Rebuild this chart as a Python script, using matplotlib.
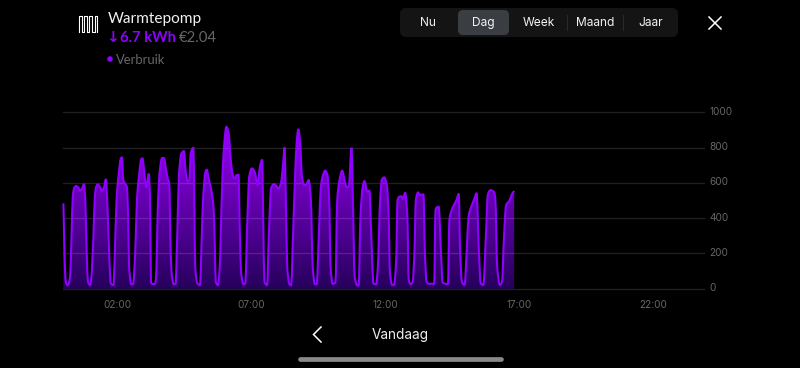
import matplotlib
matplotlib.use('Agg')
import matplotlib.pyplot as plt
import matplotlib.patches as patches
from matplotlib.path import Path
from matplotlib.colors import LinearSegmentedColormap
from matplotlib.transforms import ScaledTranslation
import numpy as np

# minutes since midnight
minutes = [0,2,4,6,10,15,18,21,24,28,33,37,42,46,49,52,55,60,62,67,70,73,77,82,86,91,95,99,103,106,112,115,119,124,128,131,134,139,142,145,147,152,156,161,165,170,174,177,182,186,191,194,196,198,204,207,212,216,221,225,230,234,237,240,243,247,251,255,259,264,270,274,279,282,285,291,293,295,300,306,309,313,318,321,325,331,336,339,341,346,350,355,359,365,370,374,379,383,388,392,395,398,403,407,412,416,422,428,435,440,445,447,450,456,460,465,471,477,481,487,492,495,498,501,506,510,513,518,522,526,530,534,539,543,549,554,558,563,567,572,576,580,586,591,595,598,603,609,613,618,624,630,634,639,645,648,652,658,661,665,670,674,680,685,689,694,700,704,709,713,718,724,728,731,736,740,745,748,752,756,760,765,770,773,777,782,786,789,794,798,806,809,813,818,830,833,836,840,845,849,861,864,868,874,880,885,888,892,898,903,907,913,919,925,930,934,940,946,950,956,964,967,971,977,982,986,991,998,1004,1009]
watts = [484,257,87,30,20,68,276,522,569,582,575,556,569,592,503,219,40,20,49,276,503,575,592,575,556,575,620,446,163,30,20,181,503,654,733,745,616,592,578,408,125,25,25,219,522,654,733,739,635,575,650,503,40,28,25,49,503,673,741,741,673,620,597,219,68,25,25,314,654,767,780,654,607,616,767,799,503,125,30,20,238,522,663,675,626,559,465,238,40,20,125,559,786,918,881,748,644,624,644,646,314,87,25,30,408,635,682,663,588,692,730,446,40,20,314,569,593,582,567,597,711,799,503,125,25,19,219,597,824,903,824,635,588,588,616,503,125,25,25,314,569,635,669,644,503,125,27,34,503,616,669,607,575,582,796,503,68,19,19,408,578,610,550,556,314,30,25,125,503,620,631,588,427,87,21,21,163,503,522,525,508,544,408,49,25,40,219,503,546,531,535,219,40,28,28,446,461,465,219,34,26,389,437,474,503,537,219,40,21,219,408,465,503,541,219,30,21,314,531,559,548,503,125,21,40,276,474,497,535,554]

y_ticks = [0, 200, 400, 600, 800, 1000]
x_ticks = [120, 420, 720, 1020, 1320]
x_labels = ['02:00', '07:00', '12:00', '17:00', '22:00']
tabs = ['Nu', 'Dag', 'Week', 'Maand', 'Jaar']

W, H = 800, 368


def smooth_path(xs, ys):
    # same kind of monotone curve the app draws, as bezier segments through the points
    xs = np.array(xs, dtype=float)
    ys = np.array(ys, dtype=float)
    d = np.diff(ys) / np.diff(xs)
    m = np.zeros(len(xs))
    m[0], m[-1] = d[0], d[-1]
    for i in range(1, len(xs) - 1):
        if d[i-1] * d[i] > 0:
            m[i] = 2 * d[i-1] * d[i] / (d[i-1] + d[i])
    verts = [(xs[0], ys[0])]
    codes = [Path.MOVETO]
    for i in range(len(xs) - 1):
        h = (xs[i+1] - xs[i]) / 3
        verts += [(xs[i] + h, ys[i] + m[i]*h), (xs[i+1] - h, ys[i+1] - m[i+1]*h), (xs[i+1], ys[i+1])]
        codes += [Path.CURVE4] * 3
    return verts, codes


fig = plt.figure(figsize=(8, 3.68), dpi=100, facecolor='black')

# chart area
ax = fig.add_axes([63.4/W, 1-288.7/H, (704-63.4)/W, 176.4/H], facecolor='black')
ax.set_xlim(0, 1434)
ax.set_ylim(0, 1000)
for s in ax.spines.values():
    s.set_visible(False)
ax.yaxis.tick_right()
ax.set_yticks(y_ticks)
ax.set_xticks(x_ticks)
ax.set_xticklabels(x_labels)
ax.tick_params(length=0, labelcolor='#666666', labelsize=7.2)
ax.tick_params(axis='x', pad=8)
ax.tick_params(axis='y', pad=4)
for l in ax.get_xticklabels():
    l.set_family('Inter')
up = ScaledTranslation(0, 1.5/100, fig.dpi_scale_trans)
for l in ax.get_yticklabels():
    l.set_family('Inter')
    l.set_transform(l.get_transform() + up)
ax.grid(axis='y', color='white', alpha=0.13, lw=1)
ax.set_axisbelow(False)
for g in ax.get_ygridlines():
    g.set_clip_on(False)

cmap = LinearSegmentedColormap.from_list('fill', ['#26005c', '#9c00fa'])
grad = np.linspace(0, 1, 256).reshape(-1, 1)
im = ax.imshow(grad, origin='lower', aspect='auto', cmap=cmap, extent=[0, 1434, 0, 950], zorder=2)
verts, codes = smooth_path(minutes, watts)
fill_path = Path(verts + [(minutes[-1], 0), (minutes[0], 0), (minutes[0], watts[0])],
                 codes + [Path.LINETO, Path.LINETO, Path.CLOSEPOLY])
poly = patches.PathPatch(fill_path, transform=ax.transData, fc='none', ec='none')
ax.add_patch(poly)
im.set_clip_path(poly)
ax.set_xlim(0, 1434)
ax.set_ylim(0, 1000)
ax.add_patch(patches.PathPatch(Path(verts, codes), fc='none', ec='#8f00ff', lw=1.5,
                               joinstyle='round', zorder=3, clip_on=False))

# everything around the chart, in pixels
ui = fig.add_axes([0, 0, 1, 1], facecolor='none')
ui.set_xlim(0, W)
ui.set_ylim(H, 0)
ui.axis('off')

# coil icon
coil_x = [79,79,81.6,81.6,84.2,84.2,86.8,86.8,89.4,89.4,92,92,94.6,94.6,97.2,97.2]
coil_y = [31.5,16,16,31.5,31.5,16,16,31.5,31.5,16,16,31.5,31.5,16,16,31.5]
ui.plot(coil_x, coil_y, color='white', lw=0.8, solid_joinstyle='round')

ui.text(107.5, 18.5, 'Warmtepomp', color='#f0f0f0', fontsize=11.1, family='Lato', va='center')
ui.text(106, 37, '↓', color='#8f00ff', fontsize=11, family='DejaVu Sans', va='center', fontweight='bold')
ui.text(120, 37.5, '6.7 kWh', color='#8f00ff', fontsize=10.6, family='Lato', va='center', fontweight='bold')
ui.text(179, 37.5, '€2.04', color='#666666', fontsize=10.7, family='Lato', va='center')
ui.add_patch(patches.Circle((110, 59), 2.8, fc='#8f00ff', ec='none'))
ui.text(116, 59.5, 'Verbruik', color='#666666', fontsize=9.4, family='Lato', va='center')

# tab bar
ui.add_patch(patches.FancyBboxPatch((400, 8), 278, 29, boxstyle='round,pad=0,rounding_size=6', fc='#141414', ec='none'))
ui.add_patch(patches.FancyBboxPatch((458, 10), 51, 25, boxstyle='round,pad=0,rounding_size=5', fc='#3a3d42', ec='none'))
for tx, name in zip([427.5, 483.5, 539, 595, 651], tabs):
    ui.text(tx, 23, name, color='#f2f2f2', fontsize=8.6, family='Inter', ha='center', va='center')
for sx in [567, 623]:
    ui.plot([sx, sx], [15, 30], color='#2a2a2a', lw=0.8)
ui.plot([709, 721], [17, 29], color='white', lw=1.1)
ui.plot([709, 721], [29, 17], color='white', lw=1.1)

# bottom nav
ui.plot([321, 313.5, 321], [327, 334.5, 342], color='white', lw=1.1, solid_joinstyle='miter')
ui.text(400, 334.5, 'Vandaag', color='#f0f0f0', fontsize=9.8, family='Inter', ha='center', va='center')
ui.plot([300, 501], [358.5, 358.5], color='#8a8a8a', lw=3.4, solid_capstyle='round')

fig.savefig('out.png', dpi=100, facecolor='black')
